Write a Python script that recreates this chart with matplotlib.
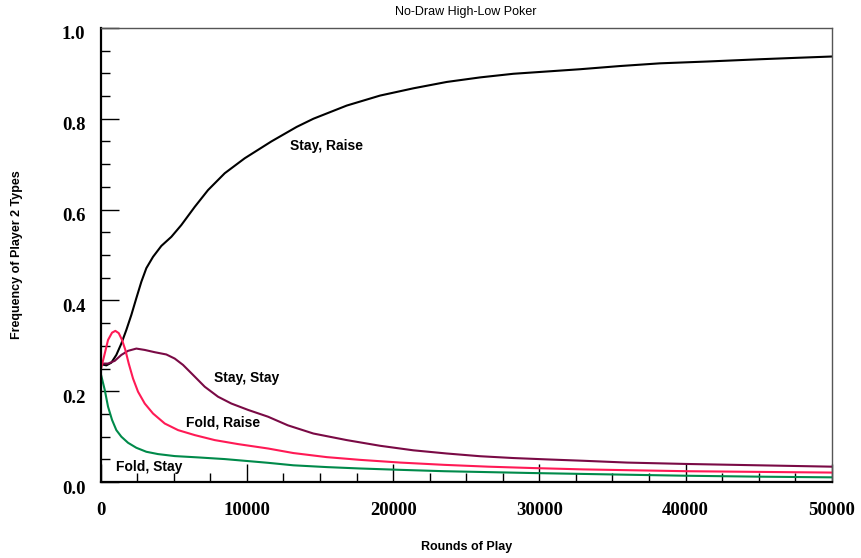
import matplotlib.pyplot as plt
import matplotlib.transforms as mtransforms
from matplotlib.ticker import MultipleLocator

# rounds of play (x) and frequency of each player-2 type
stay_raise_x = [0, 383, 725, 1067, 1409, 1751, 2093, 2435, 2777, 3119, 3577, 4145,
                4829, 5513, 6430, 7340, 8481, 9850, 11670, 13400, 14545, 16826, 19105,
                21385, 23666, 25944, 28222, 30506, 32783, 35500, 38257, 41500, 45097,
                47500, 50000]
stay_raise_y = [0.260, 0.257, 0.263, 0.280, 0.305, 0.335, 0.368, 0.405, 0.441, 0.471,
                0.496, 0.520, 0.540, 0.566, 0.606, 0.643, 0.680, 0.713, 0.750, 0.782,
                0.800, 0.829, 0.851, 0.867, 0.881, 0.891, 0.899, 0.904, 0.909, 0.916,
                0.922, 0.926, 0.931, 0.934, 0.937]

stay_stay_x = [0, 500, 958, 1409, 1867, 2435, 3010, 3694, 4487, 5061, 5629, 6313,
               7113, 8023, 8933, 10075, 11443, 12800, 14542, 16826, 19104, 21382,
               23666, 25944, 28222, 30506, 33000, 36000, 40000, 45000, 50000]
stay_stay_y = [0.261, 0.261, 0.267, 0.280, 0.289, 0.294, 0.291, 0.286, 0.281, 0.272,
               0.258, 0.236, 0.210, 0.188, 0.173, 0.159, 0.144, 0.125, 0.107, 0.0925,
               0.080, 0.070, 0.063, 0.057, 0.053, 0.050, 0.047, 0.043, 0.040, 0.037,
               0.034]

fold_raise_x = [0, 274, 500, 773, 1000, 1231, 1457, 1683, 1915, 2209, 2551, 3010,
                3577, 4378, 5288, 6430, 7798, 9392, 11443, 13174, 15458, 17735, 20500,
                23500, 26500, 29500, 33000, 36500, 40082, 45000, 50000]
fold_raise_y = [0.247, 0.283, 0.313, 0.329, 0.333, 0.328, 0.313, 0.291, 0.261, 0.228,
                0.199, 0.173, 0.151, 0.129, 0.1145, 0.1035, 0.0925, 0.0837, 0.074,
                0.064, 0.055, 0.049, 0.043, 0.038, 0.034, 0.031, 0.028, 0.026, 0.024,
                0.0225, 0.021]

fold_stay_x = [0, 274, 500, 773, 1067, 1409, 1867, 2435, 3119, 3919, 5061, 6655, 8481,
               10075, 11443, 13174, 15500, 17735, 20500, 23500, 26500, 29500, 33000,
               36500, 40082, 45000, 50000]
fold_stay_y = [0.239, 0.203, 0.166, 0.137, 0.1145, 0.100, 0.0866, 0.0756, 0.0668,
               0.0617, 0.0573, 0.0544, 0.0507, 0.0463, 0.0425, 0.037, 0.033, 0.030,
               0.027, 0.024, 0.022, 0.020, 0.018, 0.016, 0.014, 0.012, 0.0105]

fig = plt.figure(figsize=(8.61, 5.58), dpi=100)
ax = fig.add_axes([0.117, 0.136, 0.849, 0.814])

ax.plot(stay_raise_x, stay_raise_y, color='black', lw=1.5)
ax.plot(stay_stay_x, stay_stay_y, color='#7a0a45', lw=1.5)
ax.plot(fold_raise_x, fold_raise_y, color='#ff1a55', lw=1.5)
ax.plot(fold_stay_x, fold_stay_y, color='#008a4a', lw=1.5)

lbl = dict(fontsize=10, fontweight='bold', family='Liberation Sans', va='center')
ax.text(12950, 0.741, 'Stay, Raise', **lbl)
ax.text(7760, 0.229, 'Stay, Stay', **lbl)
ax.text(5830, 0.131, 'Fold, Raise', **lbl)
ax.text(1050, 0.033, 'Fold, Stay', **lbl)

ax.set_xlim(0, 50000)
ax.set_ylim(0, 1.0)
ax.xaxis.set_major_locator(MultipleLocator(10000))
ax.xaxis.set_minor_locator(MultipleLocator(2500))
ax.yaxis.set_major_locator(MultipleLocator(0.2))
ax.yaxis.set_minor_locator(MultipleLocator(0.05))
ax.tick_params(which='major', direction='in', length=13, width=1,
               top=False, right=False)
ax.tick_params(axis='x', which='major', pad=14)
ax.tick_params(axis='y', which='major', pad=11)
ax.tick_params(which='minor', direction='in', length=6.5, width=1,
               top=False, right=False)
ax.set_yticks([0, 0.2, 0.4, 0.6, 0.8, 1.0])
ax.set_yticklabels(['0.0', '0.2', '0.4', '0.6', '0.8', '1.0'])
shift = mtransforms.ScaledTranslation(0, -5 / 100, fig.dpi_scale_trans)
for t in ax.get_yticklabels():
    t.set_transform(t.get_transform() + shift)
for t in ax.get_xticklabels() + ax.get_yticklabels():
    t.set_fontfamily('Liberation Serif')
    t.set_fontweight('bold')
    t.set_fontsize(13.5)

for s in ['left', 'bottom']:
    ax.spines[s].set_linewidth(1.6)
for s in ['top', 'right']:
    ax.spines[s].set_linewidth(1)
    ax.spines[s].set_color('#555555')

ax.set_title('No-Draw High-Low Poker', fontsize=9, family='Liberation Sans', pad=9)
ax.set_xlabel('Rounds of Play', fontsize=9, fontweight='bold',
              family='Liberation Sans', labelpad=16.5)
ax.set_ylabel('Frequency of Player 2 Types', fontsize=9, fontweight='bold',
              family='Liberation Sans', labelpad=28)

fig.savefig('out.png', dpi=100)
